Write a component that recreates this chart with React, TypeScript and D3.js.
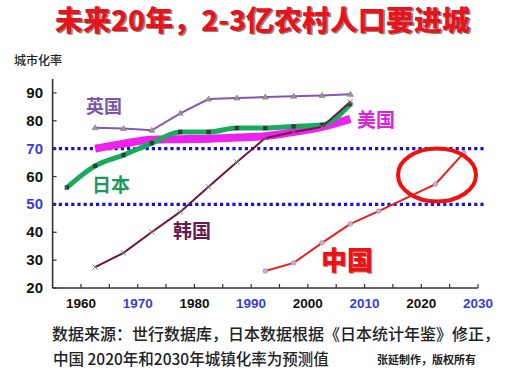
import React from "react";
import * as d3 from "d3";

const W = 518;
const H = 383;

const yearsUK = [1962.5, 1967.5, 1972.5, 1977.5, 1982.5, 1987.5, 1992.5, 1997.5, 2002.5, 2007.5];
const valuesUK = [77.5, 77.2, 76.6, 82.7, 87.8, 88.2, 88.5, 88.8, 89.1, 89.5];

const yearsJapan = [1957.5, 1962.5, 1967.5, 1972.5, 1977.5, 1982.5, 1987.5, 1992.5, 1997.5, 2002.5, 2007.5];
const valuesJapan = [56, 63.8, 67.7, 72, 76, 76, 77.4, 77.4, 78, 78.5, 86];

const yearsUS = [1962.5, 1967.5, 1972.5, 1977.5, 1982.5, 1987.5, 1992.5, 1997.5, 2002.5, 2007.5];
const valuesUS = [70, 71.8, 73.2, 73.4, 73.6, 74, 74.5, 76, 77.8, 80.7];

const yearsKorea = [1962.5, 1967.5, 1972.5, 1977.5, 1982.5, 1987.5, 1992.5, 1997.5, 2002.5, 2007.5];
const valuesKorea = [27.5, 32.6, 40.1, 47.3, 56.3, 65.2, 73.8, 76, 77.8, 86.8];

const yearsChina = [1992.5, 1997.5, 2002.5, 2007.5, 2012.5, 2022.5, 2027.5];
const valuesChina = [26.1, 29, 36.2, 43, 47.6, 57.3, 68.5];

const yTicks = [20, 30, 40, 50, 60, 70, 80, 90];
const xTicks = [1960, 1970, 1980, 1990, 2000, 2010, 2020, 2030];
const xMinorTicks = [1960, 1965, 1970, 1975, 1980, 1985, 1990, 1995, 2000, 2005, 2010, 2015, 2020, 2025, 2030];
const refLines = [50, 70];
const highlightYears = [1970, 1990, 2010, 2030];
const highlightValues = [50, 70];

const title = "未来20年，2-3亿农村人口要进城";
const yTitle = "城市化率";
const note1 = "数据来源：世行数据库，日本数据根据《日本统计年鉴》修正，";
const note2 = "中国 2020年和2030年城镇化率为预测值";
const credit = "张延制作，版权所有";

const CJK = "'Noto Sans CJK SC', 'Noto Sans', sans-serif";
const LAT = "'Liberation Sans', Arial, sans-serif";

export default function App() {
  const x = d3.scaleLinear().domain([1955, 2030]).range([52.6, 478]);
  const y = d3.scaleLinear().domain([20, 95]).range([288, 79]);

  const pts = (ys: number[], vs: number[]) => ys.map((yr, i) => [x(yr), y(vs[i])] as [number, number]);
  const straight = d3.line().curve(d3.curveLinear);
  const smooth = d3.line().curve(d3.curveMonotoneX);

  const uk = pts(yearsUK, valuesUK);
  const jp = pts(yearsJapan, valuesJapan);
  const us = pts(yearsUS, valuesUS);
  const kr = pts(yearsKorea, valuesKorea);
  const cn = pts(yearsChina, valuesChina);

  const blue = "#3b3be0";
  const x0 = x(1955);
  const x1 = x(2030);

  return (
    <svg width={W} height={H} style={{ position: "absolute", left: 0, top: 0, background: "#fff" }}>
      {/* title */}
      <text x={264} y={32} textAnchor="middle" fontFamily={CJK} fontWeight={900} fontSize={28} fill="#555" opacity={0.7}>
        {title}
      </text>
      <text x={262.5} y={30.5} textAnchor="middle" fontFamily={CJK} fontWeight={900} fontSize={28} fill="#e8141c">
        {title}
      </text>

      <text x={14} y={65} fontFamily={CJK} fontSize={12} fontWeight={500} fill="#222">{yTitle}</text>

      {/* reference dotted lines */}
      {refLines.map((v) => (
        <line key={v} x1={x0} x2={486} y1={y(v)} y2={y(v)} stroke="#1515d8" strokeWidth={3.2} strokeDasharray="3.2 3" />
      ))}

      {/* axes */}
      <line x1={x0} x2={x0} y1={y(95)} y2={y(20)} stroke="#333" strokeWidth={1.6} />
      <line x1={x0} x2={x1} y1={y(20)} y2={y(20)} stroke="#333" strokeWidth={1.6} />
      {yTicks.map((v) => (
        <g key={v}>
          <line x1={x0} x2={x0 + 4} y1={y(v)} y2={y(v)} stroke="#333" strokeWidth={1.2} />
          <text x={43} y={y(v) + 5} textAnchor="end" fontFamily={LAT} fontWeight={700} fontSize={15}
            fill={highlightValues.includes(v) ? blue : "#111"}>{v}</text>
        </g>
      ))}
      {xMinorTicks.map((v) => (
        <line key={v} x1={x(v)} x2={x(v)} y1={y(20)} y2={y(20) - 4} stroke="#333" strokeWidth={1.2} />
      ))}
      {xTicks.map((v) => (
        <text key={v} x={x(v)} y={308} textAnchor="middle" fontFamily={LAT} fontWeight={700} fontSize={13.5}
          fill={highlightYears.includes(v) ? blue : "#111"}>{v}</text>
      ))}

      {/* US */}
      <path d={smooth(us) || ""} fill="none" stroke="#ee22ee" strokeWidth={8} strokeLinecap="butt" />
      {/* Japan */}
      <path d={smooth(jp) || ""} fill="none" stroke="#1aaa5e" strokeWidth={5} strokeLinejoin="round" />
      {jp.map(([px, py], i) => (
        <rect key={i} x={px - 2.2} y={py - 2.2} width={4.4} height={4.4} fill="#222" opacity={0.75} />
      ))}
      {/* Korea */}
      <path d={straight(kr) || ""} fill="none" stroke="#6a1542" strokeWidth={2} />
      {kr.map(([px, py], i) => (
        <path key={i} d={`M${px - 2.5},${py - 2.5}L${px + 2.5},${py + 2.5}M${px - 2.5},${py + 2.5}L${px + 2.5},${py - 2.5}`}
          stroke="#777" strokeWidth={1} />
      ))}
      {/* UK */}
      <path d={straight(uk) || ""} fill="none" stroke="#8457b4" strokeWidth={2} />
      {uk.map(([px, py], i) => (
        <path key={i} d={`M${px},${py - 3}L${px + 3},${py + 2}L${px - 3},${py + 2}Z`} fill="#999" stroke="#777" strokeWidth={0.6} />
      ))}
      {/* China */}
      <path d={straight(cn) || ""} fill="none" stroke="#e82020" strokeWidth={2} />
      {cn.map(([px, py], i) => (
        <circle key={i} cx={px} cy={py} r={2.4} fill="#d0a8d8" stroke="#999" strokeWidth={0.6} />
      ))}
      <ellipse cx={437} cy={175} rx={39} ry={26.5} fill="none" stroke="#ee1111" strokeWidth={4} />

      {/* series labels */}
      <text x={86} y={113} fontFamily={CJK} fontWeight={700} fontSize={18} fill="#7e55ac">英国</text>
      <text x={357} y={127} fontFamily={CJK} fontWeight={700} fontSize={19} fill="#e020e0">美国</text>
      <text x={92} y={192} fontFamily={CJK} fontWeight={700} fontSize={19} fill="#1a9a5a">日本</text>
      <text x={173} y={238} fontFamily={CJK} fontWeight={700} fontSize={19} fill="#6a1a48">韩国</text>
      <text x={322} y={271} fontFamily={CJK} fontWeight={900} fontSize={26} fill="#7a0000" opacity={0.5}>中国</text>
      <text x={321} y={270} fontFamily={CJK} fontWeight={900} fontSize={26} fill="#ee1111">中国</text>

      {/* notes */}
      <text x={52} y={340} fontFamily={CJK} fontWeight={500} fontSize={16} fill="#222">{note1}</text>
      <text x={53} y={365} fontFamily={CJK} fontWeight={500} fontSize={15.5} fill="#222">{note2}</text>
      <text x={377} y={364} fontFamily={CJK} fontWeight={700} fontSize={11} fill="#222">{credit}</text>
    </svg>
  );
}
